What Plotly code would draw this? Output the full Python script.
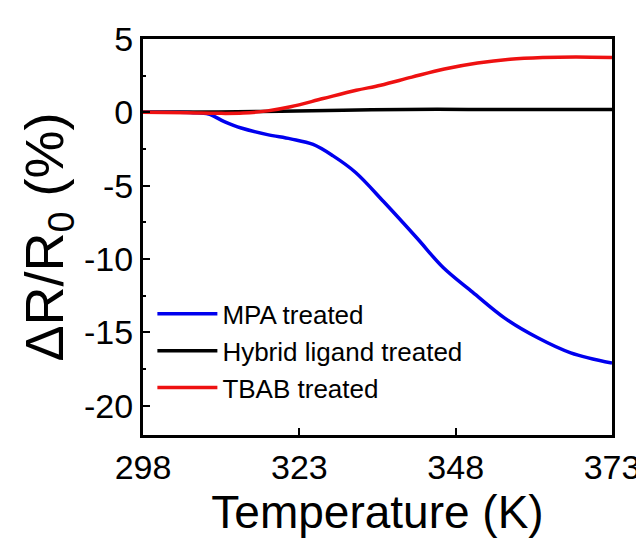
import plotly.graph_objects as go

# Data
temp_mpa = [298, 303, 306, 308.5, 311, 313.7, 317.9, 321.6, 325.2, 328.4, 332.0,
            336.5, 341.8, 346.0, 350.7, 355.9, 361.2, 366.4, 373]
val_mpa = [0, 0, -0.02, -0.12, -0.63, -1.07, -1.52, -1.81, -2.19, -2.97, -4.1,
           -6.1, -8.57, -10.58, -12.26, -14.05, -15.39, -16.4, -17.1]

temp_hybrid = [298, 310, 320, 330, 340, 350, 360, 373]
val_hybrid = [0, 0.03, 0.08, 0.15, 0.2, 0.2, 0.2, 0.2]

temp_tbab = [298, 305, 310, 314, 317.9, 321.6, 326.8, 332.1, 336.0, 341.0, 346.2,
             351.5, 356.7, 361.9, 367.2, 373]
val_tbab = [0, -0.03, -0.07, -0.05, 0.1, 0.38, 0.94, 1.5, 1.85, 2.4, 2.95,
            3.36, 3.62, 3.74, 3.78, 3.74]

x_ticks = [298, 323, 348, 373]
y_ticks = [5, 0, -5, -10, -15, -20]

series_names = ["MPA treated", "Hybrid ligand treated", "TBAB treated"]
series_colors = ["#0000EE", "#000000", "#EE1111"]

fig = go.Figure()
for name, xs, ys, col in zip(series_names,
                             [temp_mpa, temp_hybrid, temp_tbab],
                             [val_mpa, val_hybrid, val_tbab],
                             series_colors):
    fig.add_trace(go.Scatter(x=xs, y=ys, mode="lines", name=name,
                             line=dict(color=col, width=3.5, shape="spline", smoothing=1.0)))

font_family = "Liberation Sans, Arial, sans-serif"

fig.update_layout(
    width=644, height=540,
    margin=dict(l=135, r=32, t=25, b=113),
    paper_bgcolor="white", plot_bgcolor="white",
    font=dict(family=font_family, color="black"),
    showlegend=True,
    legend=dict(x=0.02, y=0.365, xanchor="left", yanchor="top",
                bgcolor="rgba(0,0,0,0)", font=dict(size=26, family=font_family),
                tracegroupgap=0, itemwidth=60),
    xaxis=dict(range=[298, 373], tickvals=x_ticks, ticktext=[str(v) for v in x_ticks],
               ticks="inside", ticklen=7, tickwidth=2, tickcolor="black",
               showline=True, linewidth=3, linecolor="black", mirror=True,
               showgrid=False, zeroline=False,
               tickfont=dict(size=34, family=font_family),
               title=dict(text="Temperature (K)", font=dict(size=46, family=font_family), standoff=8)),
    yaxis=dict(range=[-22, 5], tickvals=y_ticks, ticktext=[str(v) for v in y_ticks],
               ticks="inside", ticklen=7, tickwidth=2, tickcolor="black",
               minor=dict(ticks="inside", ticklen=3, tickwidth=2, tickcolor="black", dtick=2.5),
               showline=True, linewidth=3, linecolor="black", mirror=True,
               showgrid=False, zeroline=False,
               tickfont=dict(size=34, family=font_family),
               title=dict(text="ΔR/R<sub>0</sub> (%)", font=dict(size=54, family=font_family), standoff=4)),
)

fig.write_html("out.html")
